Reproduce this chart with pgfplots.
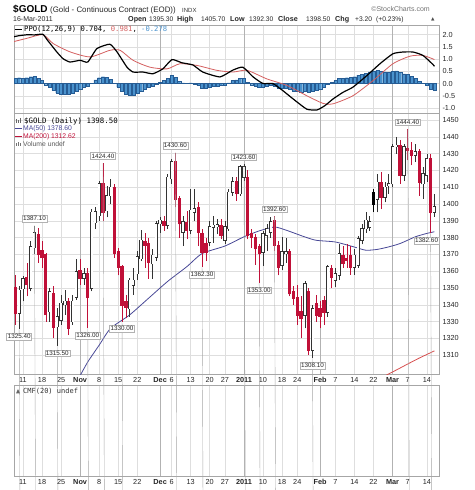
\documentclass[border=0pt]{standalone}
\usepackage{fontspec}
\setmainfont{Liberation Sans}
\newfontfamily\monof{DejaVu Sans Mono}
\newfontfamily\djv{DejaVu Sans}
\usepackage{pgfplots}
\usepackage{pgfplotstable}
\pgfplotsset{compat=1.18}

\definecolor{cred}{RGB}{192,16,56}
\definecolor{ma50}{RGB}{72,72,150}
\definecolor{ma200}{RGB}{215,80,80}
\definecolor{sig}{RGB}{212,96,96}
\definecolor{histf}{RGB}{74,146,205}
\definecolor{histd}{RGB}{38,92,148}

% white (hollow) candles: d O H L C
\pgfplotstableread{
d O H L C
-1 1335 1351 1325.4 1348.6
0 1349.6 1357 1342 1355.6
2 1350 1378 1348 1374.5
3 1374 1387.1 1370 1383
7 1336 1350 1330 1347.6
9 1327 1338 1315.5 1333
10 1331 1346 1328 1341
11 1340 1349 1334 1342
13 1330 1346 1328 1342
14 1344.6 1367 1343 1359.5
16 1356 1362 1352 1358.5
18 1350 1397 1348 1395
19 1389 1398 1385 1395.5
20 1393 1414 1390 1412
22 1396 1411 1392 1405
23 1405 1415 1400 1410
28 1337.7 1356 1333 1354.6
29 1351.6 1362 1346 1354.6
30 1358.5 1372 1355 1368.5
31 1367.5 1384.3 1366 1378.4
34 1364.5 1373.4 1355.5 1369.5
35 1368.5 1390 1366 1388.3
36 1388.3 1392.3 1383 1390.3
38 1387.3 1418 1385 1416
39 1415 1427 1412 1425
42 1383.3 1393 1375 1389.3
44 1384.3 1409 1382 1396.2
45 1395.2 1409 1390 1397.2
49 1377.4 1390 1375 1386.3
50 1386.3 1393 1377 1387.3
51 1386.5 1391 1382 1387.5
53 1378.4 1390 1376 1386.3
54 1385.3 1409 1384 1407.1
55 1407.1 1416 1405 1413.1
57 1406.2 1423 1405 1422
58 1416 1423.6 1414 1422
63 1371.4 1384 1363 1382.3
64 1381.4 1388 1372 1385.3
65 1383.3 1392 1380 1389.3
68 1363.5 1380.4 1361 1371.4
69 1370.5 1380 1365 1371.5
74 1333.7 1354 1326 1352.6
76 1313 1340 1308.1 1337.7
80 1335.7 1364 1333 1362.5
82 1354.5 1362 1350.6 1358.5
83 1357.5 1376 1355 1370.4
87 1362.5 1373 1358 1369.4
88 1363.5 1381 1362 1379.4
89 1378.4 1388 1376 1385.3
90 1385.3 1395 1383 1390.3
91 1386.3 1393 1384 1389.3
93 1403 1418 1395 1413
95 1404 1413 1401 1410
96 1411 1418 1406 1412
97 1412 1436 1410 1434
98 1434 1440 1430 1435
100 1417 1436 1414 1434
103 1429 1436 1425 1431
105 1412 1422 1403 1418
106 1417 1430 1413 1427
108 1395.3 1405.7 1392.3 1398.5
}\tW

% red (filled) candles
\pgfplotstableread{
d O H L C
-2 1350 1358 1328 1335
1 1356 1365 1345 1352
4 1382 1386 1365 1370
5 1372 1378 1362 1368
6 1370 1371 1330 1334
8 1346.6 1351 1320 1326.8
12 1341.7 1344 1322 1326
15 1360.5 1367 1352 1355.6
17 1358.5 1362 1326 1344.6
21 1412 1424.4 1390 1395
24 1410 1412 1368 1370.4
25 1371.5 1374 1357.5 1362.5
26 1362.5 1364 1330 1339.7
27 1341.7 1346 1332 1338.7
32 1377.4 1383 1362 1375.4
33 1376.4 1380 1355.5 1365.5
37 1389.3 1393 1384 1387.3
40 1425 1430.6 1398 1403
41 1403 1405 1380 1388.3
43 1389 1396 1379 1384.3
46 1398 1401 1375 1383.3
47 1382.3 1385 1362.3 1371.4
48 1376.4 1380 1366 1371.4
52 1387.3 1391 1379 1381.4
56 1413.1 1416 1402 1406.2
59 1416 1420 1379 1381.4
60 1382.3 1385 1374 1380.4
61 1380 1382 1364 1373.4
62 1374.4 1376 1353 1370.4
66 1390.3 1392.6 1372 1375.4
67 1375.4 1378 1357.5 1362.5
70 1371.4 1373 1345 1346.6
71 1347.6 1351 1340 1343.7
72 1344.6 1351.6 1328 1333.7
73 1335.7 1345 1320 1331.7
75 1347.6 1350 1310 1313
77 1340.7 1346 1330 1333.7
78 1337.7 1342 1326 1333
79 1342.6 1345 1328 1335.7
81 1361.5 1364 1350 1356.5
84 1369.4 1375 1362 1364.5
85 1367.5 1376 1362 1366.5
86 1369.4 1375 1358 1362.5
94 1413 1419 1397 1404
99 1435 1438 1412 1417
101 1433 1444.4 1426 1432
102 1432 1437 1423 1429
104 1431 1433 1405 1413
107 1427 1430 1382.6 1395
}\tR

% black (filled) candles
\pgfplotstableread{
d O H L C
92 1407 1409 1395 1400
}\tK

% PPO histogram
\pgfplotstableread{
d h
-2 0.22
-1 0.24
0 0.20
1 0.24
2 0.28
3 0.30
4 0.22
5 0.12
6 -0.05
7 -0.15
8 -0.28
9 -0.38
10 -0.42
11 -0.45
12 -0.44
13 -0.38
14 -0.30
15 -0.22
16 -0.15
17 -0.12
18 0.02
19 0.15
20 0.24
21 0.28
22 0.25
23 0.18
24 0.02
25 -0.15
26 -0.32
27 -0.45
28 -0.48
29 -0.46
30 -0.40
31 -0.30
32 -0.22
33 -0.16
34 -0.10
35 -0.02
36 0.05
37 0.12
38 0.22
39 0.33
40 0.25
41 0.10
42 0.03
43 0.02
44 0.03
45 -0.02
46 -0.08
47 -0.18
48 -0.20
49 -0.16
50 -0.12
51 -0.10
52 -0.08
53 -0.08
54 0.03
55 0.12
56 0.15
57 0.20
58 0.20
59 0.05
60 -0.05
61 -0.10
62 -0.15
63 -0.16
64 -0.12
65 -0.08
66 -0.10
67 -0.17
68 -0.18
69 -0.18
70 -0.25
71 -0.30
72 -0.32
73 -0.36
74 -0.32
75 -0.34
76 -0.30
77 -0.26
78 -0.22
79 -0.14
80 -0.02
81 0.06
82 0.12
83 0.20
84 0.22
85 0.24
86 0.26
87 0.28
88 0.33
89 0.38
90 0.42
91 0.48
92 0.52
93 0.53
94 0.50
95 0.48
96 0.46
97 0.50
98 0.52
99 0.45
100 0.40
101 0.38
102 0.30
103 0.22
104 0.10
105 0.02
106 -0.08
107 -0.25
108 -0.28
}\tH

\pgfplotsset{
  stk/.style={
    scale only axis, width=425pt, xmin=-2.36, xmax=109.2,
    axis line style={draw=black!35, line width=0.5pt},
    major tick length=0pt,
    xtick={0,5,10,15,20,25,30,36,39,44,49,53,58,63,68,72,78,82,87,92,97,101,106},
    xmajorgrids, major grid style={draw=black!13, line width=0.45pt},
    extra x ticks={15,36,58,78,97}, extra x tick labels={},
    extra x tick style={grid=major, major grid style={draw=black!30, line width=0.55pt}},
    ticklabel style={font=\fontsize{7.3}{8}\selectfont, text=black!85},
    /pgf/number format/assume math mode=true,
    clip mode=individual,
  },
  xlab/.style={xticklabels={11,18,25,\textbf{Nov},8,15,22,\textbf{Dec},6,13,20,27,\textbf{2011},10,18,24,\textbf{Feb},7,14,22,\textbf{Mar},7,14}},
}
\tikzset{plab/.style={draw=black!30, fill=white, inner sep=1.1pt, font=\fontsize{6.3}{7}\selectfont, text=black!85}}

% wick: vector from L up to H
\newcommand\wicks[2]{%
 \addplot[#2, line width=0.55pt, quiver={u=0, v=\thisrow{H}-\thisrow{L}}] table[x=d, y=L] {#1};}
% body: vector from min(O,C) up by |C-O| (plus padding)
\newcommand\bodies[4]{%
 \addplot[#2, line width=#3, quiver={u=0, v={max(abs(\thisrow{C}-\thisrow{O}),0.4)+2*#4}}]
   table[x=d, y expr={min(\thisrow{O},\thisrow{C})-#4}] {#1};}
\newcommand\hilab[3]{\draw[black!35, line width=0.4pt] (axis cs:#1,#2) -- ++(0,4pt);
 \node[plab, anchor=south] at ([yshift=3.6pt]axis cs:#1,#2) {#3};}
\newcommand\lolab[4]{\draw[black!35, line width=0.4pt] (axis cs:#1,#2) -- ++(0,-4pt);
 \node[plab, anchor=north, xshift=#4] at ([yshift=-3.6pt]axis cs:#1,#2) {#3};}

\begin{document}
\begin{tikzpicture}
\path[use as bounding box] (0,0) rectangle (474pt,490pt);

% ---------- PPO panel ----------
\begin{axis}[stk, at={(14pt,377pt)}, anchor=south west, height=88pt,
  ymin=-1.207, ymax=2.397, ytick={-1,-0.5,0,0.5,1,1.5,2}, ymajorgrids,
  yticklabel pos=right, xticklabels={},
  yticklabel style={/pgf/number format/.cd, fixed, fixed zerofill, precision=1}]
\addplot[ybar, bar width=0.82, fill=histf, draw=histd, line width=0.3pt] table[x=d,y=h] {\tH};
\addplot[sig, line width=0.8pt, smooth, tension=0.4] coordinates {
(-2.6,1.71) (1,1.85) (5.2,2.0) (7.9,1.64) (12.3,1.30) (17.6,1.09) (22.8,1.36) (25.5,1.36)
(28.9,0.95) (33.3,0.67) (37.8,0.60) (41.2,0.81) (45.7,0.74) (50.9,0.54) (55.1,0.47)
(58.8,0.54) (64,0.19) (69.3,-0.08) (74.5,-0.50) (78.7,-0.81) (81.4,-0.83) (86.6,-0.50)
(91.9,0.12) (97.1,0.81) (101.6,1.12) (105,1.15) (108,0.981)};
\addplot[black, line width=1.2pt, smooth, tension=0.3] coordinates {
(-2.6,1.91) (-1,1.96) (1.3,2.0) (3,1.99) (5.2,2.02) (6.3,1.80) (8.9,1.29) (10.5,1.02)
(12.3,0.88) (15,0.95) (17,0.88) (19.4,1.43) (22.8,1.61) (24.7,1.29) (27.3,0.67) (28.9,0.47)
(31.5,0.47) (34.1,0.40) (36.7,0.60) (39.1,0.98) (41.7,0.85) (44.6,0.76) (47.2,0.47)
(51.7,0.27) (55.1,0.55) (57.7,0.67) (60.4,0.27) (63,0.0) (65.6,0.0) (68.2,-0.29)
(70.9,-0.63) (74.5,-1.05) (77.2,-1.08) (79.3,-0.90) (81.4,-0.63) (84,-0.36) (86.6,-0.15)
(90.3,0.33) (93.7,0.81) (97.1,1.22) (99.7,1.29) (102.4,1.29) (105,1.15) (107.6,0.78) (108,0.704)};
\end{axis}

% ---------- Price panel ----------
\begin{axis}[stk, at={(14pt,116pt)}, anchor=south west, height=261pt,
  ymin=1298.81, ymax=1454.17, ytick={1310,1320,...,1450}, ymajorgrids,
  yticklabel pos=right, xlab,
  yticklabel style={/pgf/number format/1000 sep={}}]
\addplot[ma200, line width=0.8pt] coordinates {(95,1297.7) (98,1301.2) (101,1304.8) (104,1308.3) (108,1312.6)};
\addplot[ma50, line width=0.8pt, smooth, tension=0.4] coordinates {
(14.8,1297) (17,1306) (20,1316) (23,1326) (28,1334) (33,1344) (38,1354) (43,1362.7)
(47,1370.5) (53,1375) (58,1380.5) (62,1384) (66,1386.3) (69,1384.5) (74,1380.4)
(77,1378.4) (82,1377.4) (87,1374.4) (90,1372.5) (93,1373) (96,1374.5) (99,1376.5)
(103,1380.5) (106,1382.5) (108,1383.5)};
\wicks{\tW}{black!80}
\wicks{\tR}{cred}
\wicks{\tK}{black}
\bodies{\tW}{black!80}{3.3pt}{0.35}
\bodies{\tW}{white}{2.0pt}{0}
\bodies{\tR}{cred}{3.3pt}{0.35}
\bodies{\tK}{black}{3.3pt}{0.35}
\hilab{3}{1387.1}{1387.10}
\hilab{21}{1424.4}{1424.40}
\hilab{40}{1430.6}{1430.60}
\hilab{58}{1423.6}{1423.60}
\hilab{66}{1392.6}{1392.60}
\hilab{101}{1444.4}{1444.40}
\lolab{-1}{1325.4}{1325.40}{0pt}
\lolab{9}{1315.5}{1315.50}{0pt}
\lolab{17}{1326}{1326.00}{0pt}
\lolab{26}{1330}{1330.00}{0pt}
\lolab{47}{1362.3}{1362.30}{0pt}
\lolab{62}{1353}{1353.00}{0pt}
\lolab{76}{1308.1}{1308.10}{0pt}
\lolab{107}{1382.6}{1382.60}{-4pt}
\end{axis}

% ---------- CMF panel ----------
\begin{axis}[stk, at={(14pt,14pt)}, anchor=south west, height=91pt,
  ymin=0, ymax=1, ytick=\empty, xlab]
\addplot[draw=none] coordinates {(0,0.5)};
\end{axis}

% ---------- texts ----------
\node[anchor=base west, inner sep=0] at (13pt,477.5pt) {\fontsize{10}{12}\selectfont\bfseries\$GOLD};
\node[anchor=base west, inner sep=0, text=black!85] at (50pt,477.5pt) {\fontsize{7.9}{9}\selectfont (Gold - Continuous Contract (EOD))};
\node[anchor=base west, inner sep=0, text=black!80] at (182pt,477.5pt) {\fontsize{6}{7}\selectfont INDX};
\node[anchor=base east, inner sep=0, text=black!55] at (430pt,478pt) {\fontsize{7}{8}\selectfont ©StockCharts.com};
\node[anchor=base west, inner sep=0, text=black!85] at (13pt,468.5pt) {\fontsize{7}{8}\selectfont 16-Mar-2011};
\begin{scope}[every node/.style={anchor=base west, inner sep=0, text=black!85}]
\node at (128pt,468.5pt) {\fontsize{7.2}{8}\selectfont\bfseries Open};
\node at (149pt,468.5pt) {\fontsize{6.7}{8}\selectfont 1395.30};
\node at (177pt,468.5pt) {\fontsize{7.2}{8}\selectfont\bfseries High};
\node at (201pt,468.5pt) {\fontsize{6.7}{8}\selectfont 1405.70};
\node at (230pt,468.5pt) {\fontsize{7.2}{8}\selectfont\bfseries Low};
\node at (249pt,468.5pt) {\fontsize{6.7}{8}\selectfont 1392.30};
\node at (278pt,468.5pt) {\fontsize{7.2}{8}\selectfont\bfseries Close};
\node at (306pt,468.5pt) {\fontsize{6.7}{8}\selectfont 1398.50};
\node at (335pt,468.5pt) {\fontsize{7.2}{8}\selectfont\bfseries Chg};
\node at (355pt,468.5pt) {\fontsize{6.7}{8}\selectfont +3.20};
\node at (376pt,468.5pt) {\fontsize{6.7}{8}\selectfont (+0.23\%)};
\node[text=black!70] at (431pt,469pt) {\djv\fontsize{4.5}{5}\selectfont ▲};
\end{scope}

\draw[black, line width=1.2pt] (15pt,460.5pt) -- (22pt,460.5pt);
\node[anchor=base west, inner sep=0] at (24pt,458pt) {\monof\fontsize{7.2}{8}\selectfont PPO(12,26,9) 0.704, \textcolor{sig}{0.981}, \textcolor{histf}{-0.278}};

\fill[black!60] (16pt,366.5pt) rectangle (16.8pt,371pt);
\fill[black!60] (18pt,366.5pt) rectangle (18.8pt,370pt);
\fill[black!60] (20pt,366.5pt) rectangle (20.8pt,371.5pt);
\node[anchor=base west, inner sep=0] at (24pt,366.5pt) {\monof\fontsize{7.4}{8}\selectfont \$GOLD (Daily) 1398.50};
\draw[ma50, line width=1pt] (15pt,361.5pt) -- (22pt,361.5pt);
\node[anchor=base west, inner sep=0, text=ma50] at (23pt,359pt) {\fontsize{6.8}{8}\selectfont MA(50) 1378.60};
\draw[cred, line width=1pt] (15pt,353.5pt) -- (22pt,353.5pt);
\node[anchor=base west, inner sep=0, text=cred] at (23pt,351pt) {\fontsize{6.8}{8}\selectfont MA(200) 1312.62};
\fill[black!55] (16pt,343.5pt) rectangle (16.8pt,346.5pt);
\fill[black!55] (18pt,343.5pt) rectangle (18.8pt,348pt);
\fill[black!55] (20pt,343.5pt) rectangle (20.8pt,347pt);
\node[anchor=base west, inner sep=0, text=black!65] at (23pt,343.5pt) {\fontsize{6.8}{8}\selectfont Volume undef};

\fill[black!60] (16pt,96.5pt) -- (18pt,101pt) -- (20pt,96.5pt) -- cycle;
\node[anchor=base west, inner sep=0, text=black!80] at (23pt,96.5pt) {\monof\fontsize{7}{8}\selectfont CMF(20) undef};
\end{tikzpicture}
\end{document}
